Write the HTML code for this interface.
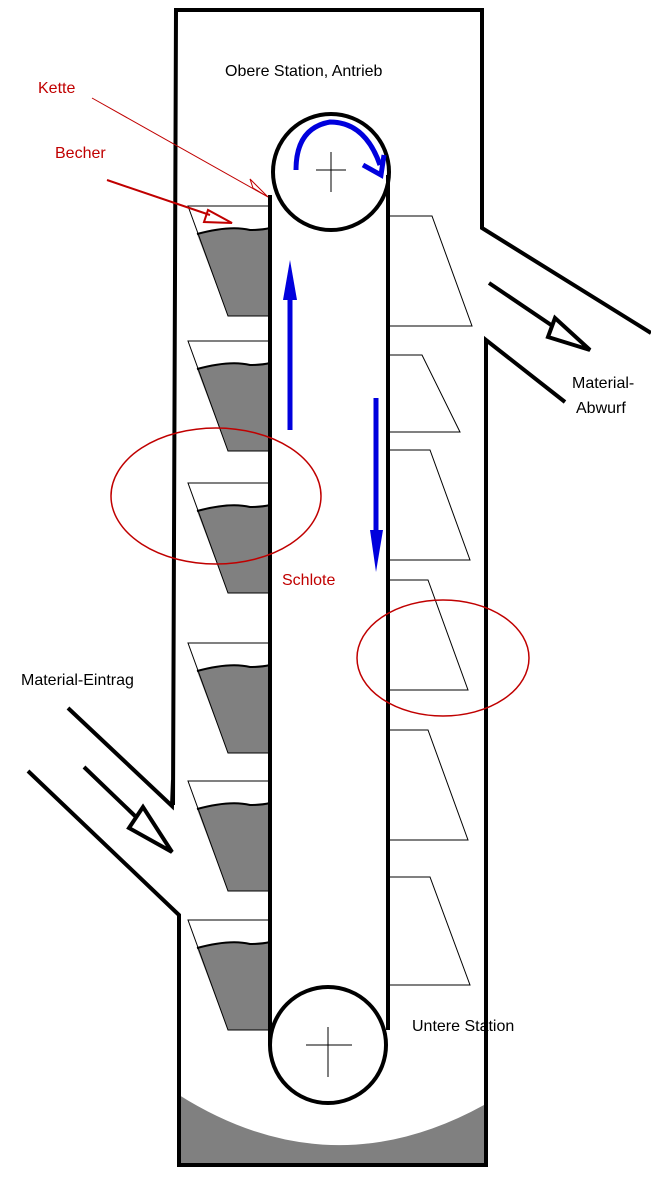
<!DOCTYPE html>
<html><head><meta charset="utf-8"><style>
html,body{margin:0;padding:0;background:#fff;}
svg{display:block;}
text{font-family:"Liberation Sans",sans-serif;font-size:16px;}
</style></head><body>
<svg width="651" height="1184" viewBox="0 0 651 1184" xmlns="http://www.w3.org/2000/svg">
<path d="M179 1095 Q330 1190 484 1105 L484 1165 L179 1165 Z" fill="#808080"/>
<g fill="none" stroke="#000" stroke-width="4">
<path d="M173 805 L176 10 L482 10 L482 228 L651 333"/>
<path d="M565 402 L486 340 L486 1165 L179 1165 L179 915 L28 771"/>
<path d="M68 708 L172 806 L173 780"/>
</g>
<line x1="84" y1="767" x2="160" y2="840" stroke="#000" stroke-width="4"/>
<polygon points="143,807 129,828 172,852" fill="#fff" stroke="#000" stroke-width="4"/>
<line x1="489" y1="283" x2="560" y2="331" stroke="#000" stroke-width="4"/>
<polygon points="555,318 548,337 590,350" fill="#fff" stroke="#000" stroke-width="4"/>
<g stroke="#000" stroke-width="1">
<g id="lb">
<path d="M197 234 Q230 225 250 230 Q262 230 270 228 L270 316 L228 316 Z" fill="#808080" stroke="none"/>
<path d="M197 234 Q230 225 250 230 Q262 230 270 228" fill="none" stroke-width="2"/>
<path d="M270 206 L188 206 L228 316 L270 316" fill="none"/>
</g>
<use href="#lb" y="135"/>
<use href="#lb" y="277"/>
<use href="#lb" y="437"/>
<use href="#lb" y="575"/>
<use href="#lb" y="714"/>
</g>
<g fill="none" stroke="#000" stroke-width="1">
<path d="M390 216 L432 216 L472 326 L390 326"/>
<path d="M390 355 L422 355 L460 432 L390 432"/>
<path d="M390 450 L430 450 L470 560 L390 560"/>
<path d="M390 580 L428 580 L468 690 L390 690"/>
<path d="M390 730 L428 730 L468 840 L390 840"/>
<path d="M390 877 L430 877 L470 985 L390 985"/>
</g>
<rect x="270" y="172" width="118" height="873" fill="#fff"/>
<g fill="#fff" stroke="#000" stroke-width="4">
<circle cx="331" cy="172" r="58"/>
<circle cx="328" cy="1045" r="58"/>
</g>
<path d="M270 195 L270 1045 M388 175 L388 1030" stroke="#000" stroke-width="4" fill="none"/>
<g stroke="#000" stroke-width="1">
<line x1="331" y1="152" x2="331" y2="192"/><line x1="316" y1="170" x2="346" y2="170"/>
<line x1="328" y1="1027" x2="328" y2="1077"/><line x1="306" y1="1045" x2="352" y2="1045"/>
</g>
<g stroke="#0000dd" fill="none" stroke-width="5">
<path d="M296 170 Q296 128 330 122 Q365 122 380 165"/>
<path d="M363 165 L381 175 L384 155"/>
<line x1="290" y1="430" x2="290" y2="290"/>
<line x1="376" y1="398" x2="376" y2="540"/>
</g>
<polygon points="290,260 283,300 297,300" fill="#0000dd"/>
<polygon points="376,572 370,530 383,530" fill="#0000dd"/>
<g stroke="#c00000" fill="none">
<ellipse cx="216" cy="496" rx="105" ry="68" stroke-width="1.5"/>
<ellipse cx="443" cy="658" rx="86" ry="58" stroke-width="1.5"/>
<line x1="92" y1="98" x2="268" y2="197" stroke-width="1"/>
<polygon points="250,179 253,188 268,197" stroke-width="1"/>
<line x1="107" y1="180" x2="210" y2="215" stroke-width="2"/>
<polygon points="208,210 204,222 232,223" stroke-width="2"/>
</g>
<text x="225" y="76">Obere Station, Antrieb</text>
<text x="38" y="93" fill="#c00000">Kette</text>
<text x="55" y="158" fill="#c00000">Becher</text>
<text x="282" y="585" fill="#c00000">Schlote</text>
<text x="21" y="685">Material-Eintrag</text>
<text x="572" y="388">Material-</text>
<text x="576" y="413">Abwurf</text>
<text x="412" y="1031">Untere Station</text>
</svg>
</body></html>
